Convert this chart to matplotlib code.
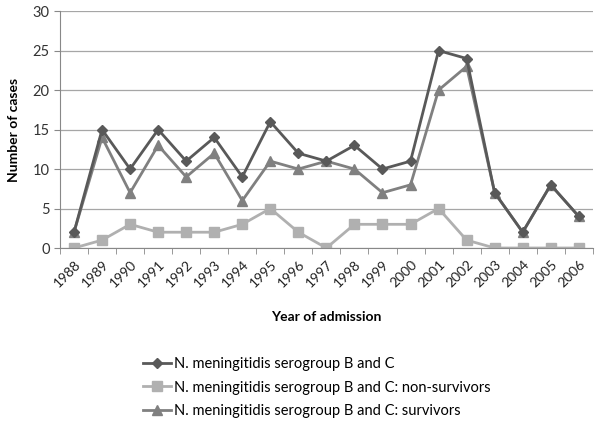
import matplotlib
matplotlib.use("Agg")
import matplotlib.pyplot as plt
import numpy as np

years = [str(y) for y in range(1988, 2007)]
total = [2, 15, 10, 15, 11, 14, 9, 16, 12, 11, 13, 10, 11, 25, 24, 7, 2, 8, 4]
non_survivors = [0, 1, 3, 2, 2, 2, 3, 5, 2, 0, 3, 3, 3, 5, 1, 0, 0, 0, 0]
survivors = [2, 14, 7, 13, 9, 12, 6, 11, 10, 11, 10, 7, 8, 20, 23, 7, 2, 8, 4]

plt.rcParams['font.family'] = ['Lato', 'DejaVu Sans']

fig = plt.figure(figsize=(6, 4.23), dpi=100)
ax = fig.add_axes([0.1, 0.4137, 0.888, 0.56])

x = np.arange(len(years))
ax.plot(x, total, color='#595959', lw=2.0, marker='D', ms=5.5,
        label='N. meningitidis serogroup B and C', zorder=3)
ax.plot(x, non_survivors, color='#b0b0b0', lw=2.0, marker='s', ms=7,
        label='N. meningitidis serogroup B and C: non-survivors', zorder=2)
ax.plot(x, survivors, color='#808080', lw=2.0, marker='^', ms=7,
        label='N. meningitidis serogroup B and C: survivors', zorder=2.5)

ax.set_xlim(-0.5, len(years) - 0.5)
ax.set_ylim(0, 30)
ax.set_yticks(range(0, 31, 5))
ax.yaxis.grid(True, color='#a6a6a6', lw=0.9)
ax.set_axisbelow(True)

ax.set_xticks(x)
ax.set_xticklabels(years, rotation=45, ha='right', rotation_mode='anchor', fontsize=10)
ax.tick_params(axis='x', which='major', length=0, pad=7, labelcolor='#222222')
ax.set_xticks(np.arange(-0.5, len(years), 1), minor=True)
ax.tick_params(axis='x', which='minor', length=4, color='#888888')
ax.tick_params(axis='y', length=4, color='#888888', labelsize=10.5, labelcolor='#333333')

for s in ['top', 'right']:
    ax.spines[s].set_visible(False)
ax.spines['left'].set_color('#888888')
ax.spines['bottom'].set_color('#888888')

ax.set_ylabel('Number of cases', fontsize=10, fontweight='bold', labelpad=9)
ax.set_xlabel('Year of admission', fontsize=10, fontweight='bold', labelpad=16)

fig.legend(loc='upper left', bbox_to_anchor=(130 / 600, 1 - 344 / 423),
           frameon=False, fontsize=10.5, handlelength=1.9, labelspacing=0.65,
           handletextpad=0.2)

fig.savefig('out.png', dpi=100)
